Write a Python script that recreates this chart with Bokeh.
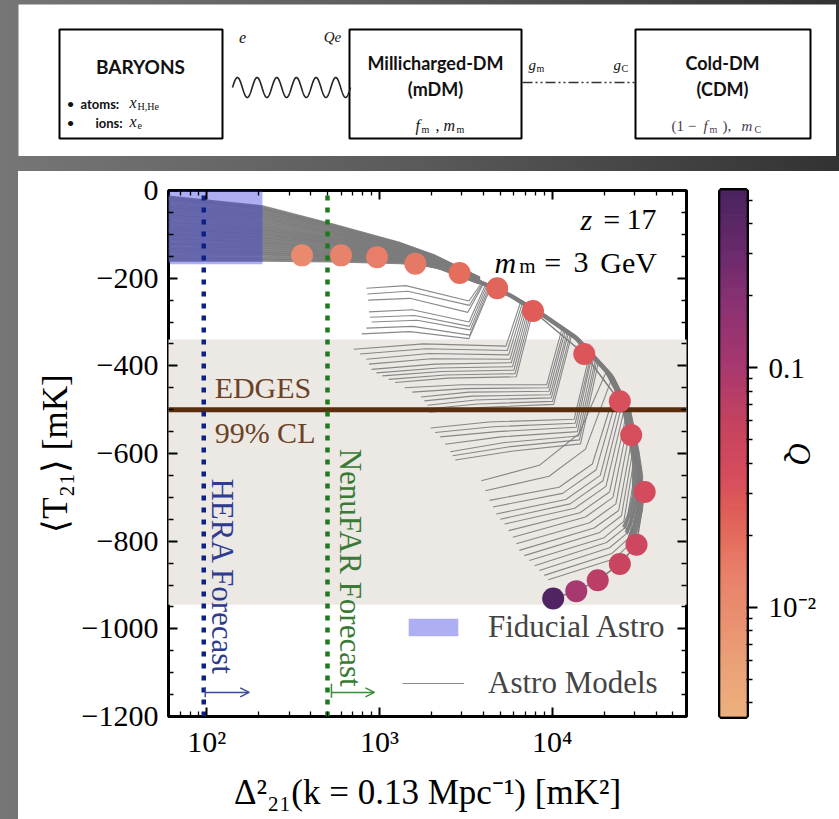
import math
import numpy as np
from bokeh.plotting import figure
from bokeh.models import (Range1d, LogAxis, LinearAxis, FixedTicker, CustomJSTickFormatter, Legend,
                          LegendItem, LogColorMapper, ColumnDataSource, Arrow, OpenHead, Spacer)
from bokeh.layouts import column, row
from bokeh.transform import transform
from bokeh.core.properties import value
from bokeh.embed import file_html
from bokeh.resources import INLINE

SERIF = "Liberation Serif"
SANS = "Lato"

# ---------------- data ----------------
# fiducial-astro trajectory (coloured dots): one point per Q value
Q_FID = [0.0109, 0.0127, 0.0144, 0.016, 0.0195, 0.022, 0.026, 0.030, 0.033, 0.036, 0.038, 0.047, 0.054, 0.072, 0.10, 0.49]
DELTA_FID = [356, 599, 968, 1614, 2911, 4808, 7745, 15350, 24660, 28700, 34360, 30800, 24660, 18370, 13800, 10140]
T21_FID = [-148, -148, -152, -167, -188, -223, -275, -373, -481, -558, -688, -808, -852, -889, -914, -931]

# fiducial astro region (blue box)
FID_DELTA = [60, 210]
FID_T21 = [-168, 0]

# EDGES 99% CL band and central value
EDGES_T21 = -500
EDGES_BAND = [-945, -340]

# forecast sensitivities
HERA_DELTA = 96
NENUFAR_DELTA = 500

# colour bar
Q_MIN, Q_MAX = 0.0035, 0.55
Q_TICKS = [0.01, 0.1]
Q_TICK_LABELS = ["10\u207b\u00b2", "0.1"]
Q_MINOR = [0.004, 0.005, 0.006, 0.007, 0.008, 0.009, 0.02, 0.03, 0.04, 0.05, 0.06, 0.07, 0.08, 0.09,
           0.2, 0.3, 0.4, 0.5]
CMAP_POS = [0.0, 0.113, 0.2, 0.273, 0.338, 0.402, 0.466, 0.563, 0.664, 0.788, 0.884, 1.0]
CMAP_HEX = ["#EDB07F", "#EA9F76", "#E98D6F", "#E8806A", "#E46D5C", "#DE5A58", "#D54B5D",
            "#C4425F", "#A83870", "#8A3272", "#6A2A6C", "#4B2361"]

# axes ticks
X_TICKS = [100, 1000, 10000]
X_TICK_LABELS = ["10\u00b2", "10\u00b3", "10\u2074"]
X_MINOR = [60, 70, 80, 90, 200, 300, 400, 500, 600, 700, 800, 900,
           2000, 3000, 4000, 5000, 6000, 7000, 8000, 9000, 20000, 30000, 40000, 50000, 60000]
Y_TICKS = [0, -200, -400, -600, -800, -1000, -1200]
Y_TICK_LABELS = ["0", "\u2212200", "\u2212400", "\u2212600", "\u2212800", "\u22121000", "\u22121200"]
Y_MINOR = [-1150, -1100, -1050, -950, -900, -850, -750, -700, -650, -550, -500, -450,
           -350, -300, -250, -150, -100, -50]

# grey astro-model curves: low-Q part (inside / right of the blue box)
UPPER_DELTA = [60, 210, 545, 1320, 2050, 3800]
UPPER_T21 = [
    [-15, -37, -79, -121, -148, -200],
    [-19, -41, -81, -122, -149, -200],
    [-24, -45, -84, -124, -150, -201],
    [-30, -50, -87, -126, -150, -201],
    [-36, -54, -90, -127, -151, -202],
    [-41, -59, -94, -129, -152, -202],
    [-47, -63, -97, -131, -153, -203],
    [-53, -68, -100, -133, -154, -203],
    [-58, -73, -103, -134, -155, -204],
    [-64, -78, -107, -136, -156, -204],
    [-70, -83, -110, -138, -157, -205],
    [-75, -88, -113, -140, -158, -205],
    [-81, -92, -116, -141, -158, -205],
    [-86, -97, -119, -143, -159, -206],
    [-91, -101, -121, -144, -160, -206],
    [-97, -106, -124, -146, -161, -206],
    [-102, -110, -127, -147, -162, -207],
    [-108, -115, -131, -149, -163, -207],
    [-113, -119, -134, -151, -164, -208],
    [-119, -124, -138, -152, -165, -208],
    [-124, -129, -141, -154, -166, -209],
    [-130, -134, -144, -156, -167, -209],
    [-135, -139, -147, -157, -168, -210],
    [-141, -143, -151, -159, -169, -210],
    [-147, -148, -154, -161, -170, -210],
    [-153, -154, -158, -163, -171, -211],
    [-159, -159, -161, -165, -172, -211],
]
# ridge of the grey band (outer envelope of the models)
ENV_DELTA = [2050, 3800, 5920, 9200, 14300, 22300, 27800, 31000, 32500, 32500, 30500, 28500]
ENV_T21 = [-165, -209, -243, -289, -342, -426, -502, -593, -646, -723, -770, -800]
# relative spread of the curves that make up the thick band
BAND_SCALE_DELTA = [1.00, 0.975, 0.95, 1.02, 0.92, 0.965, 0.99, 0.935, 0.905, 1.01, 0.955, 0.985]
BAND_SCALE_T21 = [1.00, 0.99, 0.98, 1.005, 0.965, 0.995, 0.985, 0.975, 0.96, 1.0, 0.97, 0.995]
# high-Q branches leaving the band towards low power
BRANCH_DELTA = [
    [3900, 3300, 1420, 840], [3950, 3320, 1460, 850], [4000, 3250, 1500, 860],
    [4100, 3300, 1550, 870], [4180, 3320, 1600, 880], [4250, 3350, 1650, 900],
    [4320, 3330, 1560, 840], [4400, 3300, 1500, 790],
    [6600, 5400, 1800, 710], [6750, 5500, 1850, 770], [6900, 5600, 1950, 840],
    [7050, 5700, 2000, 870], [7200, 5800, 2100, 900], [7350, 5900, 2200, 960],
    [7500, 6000, 2300, 1040], [7650, 6100, 2400, 1130], [7800, 6200, 2500, 1230],
    [11500, 9300, 3000, 1400], [11800, 9450, 3150, 1550], [12000, 9600, 3300, 1740],
    [12300, 9750, 3450, 1820], [12500, 9900, 3600, 1900], [12800, 10050, 3700, 1930],
    [13000, 10200, 3800, 1950],
    [16500, 13400, 4300, 1980], [16800, 13600, 4550, 2100], [17000, 13800, 4800, 2250],
    [17400, 14000, 5050, 2400], [17800, 14200, 5300, 2570], [18100, 14400, 5550, 2650],
    [18500, 14600, 5800, 2750],
    [20500, 14300, 8430, 3890], [22000, 15600, 9600, 4100], [23500, 17100, 10970, 4340],
    [24200, 18000, 11500, 4540], [25000, 19000, 12000, 4740], [25700, 19700, 12700, 5000],
    [26500, 20500, 13500, 5300], [27200, 21500, 14500, 5600], [28000, 22500, 15600, 5920],
    [28700, 23400, 16500, 6200], [29500, 24300, 17500, 6460], [30000, 25200, 18700, 6900],
    [30500, 26000, 20000, 7380], [31000, 26700, 20700, 7900], [31500, 27500, 21500, 8430],
    [31500, 28000, 22200, 9000], [31500, 28500, 23000, 9500],
]
BRANCH_T21 = [
    [-211, -252, -217, -223], [-212, -262, -230, -236], [-213, -278, -246, -250],
    [-216, -300, -272, -277], [-217, -310, -285, -289], [-219, -318, -296, -300],
    [-221, -330, -310, -314], [-222, -338, -322, -327],
    [-252, -355, -350, -362], [-255, -365, -361, -373], [-257, -375, -372, -385],
    [-259, -385, -384, -396], [-262, -393, -396, -408], [-264, -402, -405, -416],
    [-266, -410, -413, -423], [-268, -418, -421, -431], [-270, -425, -428, -438],
    [-310, -443, -443, -450], [-313, -450, -452, -460], [-316, -458, -460, -471],
    [-319, -466, -469, -480], [-322, -473, -478, -490], [-325, -481, -487, -498],
    [-328, -488, -495, -506],
    [-372, -522, -528, -542], [-375, -531, -539, -552], [-378, -540, -550, -562],
    [-382, -550, -562, -579], [-386, -560, -575, -596], [-390, -569, -585, -605],
    [-394, -578, -595, -615],
    [-415, -555, -627, -662], [-432, -590, -652, -685], [-450, -624, -677, -707],
    [-460, -637, -691, -722], [-470, -650, -705, -738], [-480, -662, -715, -750],
    [-490, -675, -725, -761], [-502, -688, -735, -776], [-515, -700, -745, -791],
    [-532, -715, -758, -806], [-550, -730, -770, -821], [-570, -742, -781, -833],
    [-590, -755, -792, -844], [-615, -768, -803, -856], [-640, -780, -815, -867],
    [-670, -792, -828, -878], [-700, -805, -840, -888],
]


def build_palette(n=256):
    rgb = np.array([[int(h[i:i + 2], 16) for i in (1, 3, 5)] for h in CMAP_HEX], dtype=float)
    t = np.linspace(0, 1, n)
    ch = [np.interp(t, CMAP_POS, rgb[:, k]) for k in range(3)]
    return ["#%02x%02x%02x" % (int(round(r)), int(round(g)), int(round(b))) for r, g, b in zip(*ch)]


PALETTE = build_palette()
mapper = LogColorMapper(palette=PALETTE, low=Q_MIN, high=Q_MAX)


def label_formatter(tick_values, labels):
    return CustomJSTickFormatter(args=dict(tv=tick_values, labs=labels), code="""
        for (let i = 0; i < tv.length; i++) {
            if (Math.abs(tv[i] - tick) <= 1e-9 * Math.max(1, Math.abs(tick))) { return labs[i]; }
        }
        return '';
    """)


def empty_formatter():
    return CustomJSTickFormatter(code="return '';")


# ---------------- main panel ----------------
p = figure(width=682, height=648, x_axis_type="log", x_range=Range1d(60, 60000), y_range=Range1d(-1200, 0),
           output_backend="svg", toolbar_location=None,
           min_border_left=150, min_border_right=14, min_border_top=19, min_border_bottom=103,
           background_fill_color="white", border_fill_color="white")
p.grid.visible = False
p.outline_line_color = "black"
p.outline_line_width = 3


def style_axis(ax):
    ax.major_tick_in = 9
    ax.major_tick_out = 0
    ax.minor_tick_in = 5
    ax.minor_tick_out = 0
    ax.major_tick_line_width = 2
    ax.minor_tick_line_width = 1.3
    ax.major_tick_line_color = "black"
    ax.minor_tick_line_color = "black"
    ax.axis_line_color = None
    ax.major_label_text_font = SERIF
    ax.major_label_text_font_size = "30px"
    ax.major_label_text_color = "black"
    ax.axis_label_text_font = SERIF
    ax.axis_label_text_font_size = "35px"
    ax.axis_label_text_font_style = "normal"
    ax.axis_label_text_color = "black"


xax = p.xaxis[0]
yax = p.yaxis[0]
for ax in (xax, yax):
    style_axis(ax)
xax.ticker = FixedTicker(ticks=X_TICKS, minor_ticks=X_MINOR)
xax.formatter = label_formatter(X_TICKS, X_TICK_LABELS)
xax.major_label_standoff = 8
xax.axis_label = "\u0394\u00b2\u2082\u2081(k = 0.13 Mpc\u207b\u00b9) [mK\u00b2]"
xax.axis_label_standoff = 12
yax.ticker = FixedTicker(ticks=Y_TICKS, minor_ticks=Y_MINOR)
yax.formatter = label_formatter(Y_TICKS, Y_TICK_LABELS)
yax.major_label_standoff = 10
yax.axis_label = "\u27e8T\u2082\u2081\u27e9 [mK]"
yax.axis_label_standoff = 4

top_ax = LogAxis(ticker=FixedTicker(ticks=X_TICKS, minor_ticks=X_MINOR), formatter=empty_formatter())
right_ax = LinearAxis(ticker=FixedTicker(ticks=Y_TICKS, minor_ticks=Y_MINOR), formatter=empty_formatter())
for ax in (top_ax, right_ax):
    style_axis(ax)
    ax.major_label_standoff = 0
p.add_layout(top_ax, "above")
p.add_layout(right_ax, "right")

# EDGES band
p.quad(left=[1], right=[1e7], bottom=[EDGES_BAND[0]], top=[EDGES_BAND[1]],
       fill_color="#ECE9E5", line_color=None)

# grey astro models
GREY = "#7c7c7c"
p.multi_line(xs=[UPPER_DELTA] * len(UPPER_T21), ys=UPPER_T21, line_color=GREY, line_width=3.0, line_alpha=0.9)
band_xs = [[d * s for d in ENV_DELTA] for s in BAND_SCALE_DELTA]
band_ys = [[t * s for t in ENV_T21] for s in BAND_SCALE_T21]
p.multi_line(xs=band_xs, ys=band_ys, line_color=GREY, line_width=2.2, line_alpha=0.9)
branch_r = p.multi_line(xs=BRANCH_DELTA, ys=BRANCH_T21, line_color=GREY, line_width=1.1, line_alpha=0.9)
p.line(DELTA_FID, T21_FID, line_color=GREY, line_width=1.5)

# fiducial astro box (over the lines)
fid_r = p.quad(left=[FID_DELTA[0]], right=[FID_DELTA[1]], bottom=[FID_T21[0]], top=[FID_T21[1]],
               fill_color="#3434E6", fill_alpha=0.4, line_color=None)

# EDGES central value
p.line([1, 1e7], [EDGES_T21, EDGES_T21], line_color="#5A2D0C", line_width=5)

# forecast lines
HERA_C = "#0B2184"
NENU_C = "#1B7A1B"
p.line([HERA_DELTA, HERA_DELTA], [-1200, 0], line_color=HERA_C, line_width=4.5, line_dash="5 7")
p.line([NENUFAR_DELTA, NENUFAR_DELTA], [-1200, 0], line_color=NENU_C, line_width=4.5, line_dash="5 7")

# coloured dots
dots = ColumnDataSource(dict(x=DELTA_FID, y=T21_FID, q=Q_FID))
p.scatter("x", "y", source=dots, size=22, fill_color=transform("q", mapper), line_color=None)


def ptext(x, y, s, size=29, color="black", style="normal", align="left", baseline="alphabetic", angle=0.0):
    p.text(x=[x], y=[y], text=[s], text_font=value(SERIF), text_font_size=value(f"{size}px"),
           text_font_style=style, text_color=color, text_align=align, text_baseline=baseline, angle=angle)


ptext(111, -450, "EDGES", size=30, color="#6B4226")
ptext(111, -553, "99% CL", size=30, color="#6B4226")
ptext(124, -657, "HERA Forecast", size=31, color="#2E3B8E", baseline="middle", angle=-math.pi / 2)
ptext(679, -589, "NenuFAR Forecast", size=31, color="#3A7A36", baseline="middle", angle=-math.pi / 2)
ptext(14600, -66, "z", size=30, style="italic")
ptext(19800, -66, "=", size=30)
ptext(27000, -66, "17", size=30)
ptext(4630, -164, "m", size=30, style="italic")
ptext(6460, -173, "m", size=21)
ptext(9010, -164, "=", size=30)
ptext(13300, -164, "3", size=30)
ptext(19000, -164, "GeV", size=30)

# forecast arrows
p.add_layout(Arrow(end=OpenHead(size=9, line_color="#3C4A9A", line_width=1.5),
                   x_start=98, y_start=-1145, x_end=176, y_end=-1145, line_color="#3C4A9A", line_width=1.5))
p.add_layout(Arrow(end=OpenHead(size=9, line_color="#3B8B3B", line_width=1.5),
                   x_start=527, y_start=-1145, x_end=935, y_end=-1145, line_color="#3B8B3B", line_width=1.5))
p.segment(x0=[98, 527], y0=[-1133, -1125], x1=[98, 527], y1=[-1156, -1157],
          line_color=["#3C4A9A", "#3B8B3B"], line_width=1.5)

legend = Legend(items=[LegendItem(label="Fiducial Astro", renderers=[fid_r]),
                       LegendItem(label="Astro Models", renderers=[branch_r])],
                location=(234, 15), orientation="vertical", background_fill_alpha=0, border_line_alpha=0,
                label_text_font=SERIF, label_text_font_size="31px", glyph_width=62, glyph_height=22,
                label_height=31, spacing=20, padding=0, margin=0, label_standoff=24)
p.add_layout(legend)

# ---------------- colour bar ----------------
cb = figure(width=139, height=648, y_axis_type="log", y_range=Range1d(Q_MIN, Q_MAX), x_range=Range1d(0, 1),
            output_backend="svg", toolbar_location=None, y_axis_location="right",
            min_border_left=20, min_border_right=93, min_border_top=19, min_border_bottom=103,
            background_fill_color="white", border_fill_color="white")
cb.grid.visible = False
cb.xaxis.visible = False
cb.outline_line_color = "black"
cb.outline_line_width = 5
edges = np.geomspace(Q_MIN, Q_MAX, 257)
cb_src = ColumnDataSource(dict(bottom=edges[:-1], top=edges[1:], q=np.sqrt(edges[:-1] * edges[1:])))
cb.quad(left=0, right=1, bottom="bottom", top="top", fill_color=transform("q", mapper),
        line_color=transform("q", mapper), line_width=1, source=cb_src)
cax = cb.yaxis[0]
cax.ticker = FixedTicker(ticks=Q_TICKS, minor_ticks=Q_MINOR)
cax.formatter = label_formatter(Q_TICKS, Q_TICK_LABELS)
cax.major_tick_out = 11
cax.major_tick_in = 0
cax.minor_tick_out = 6
cax.minor_tick_in = 0
cax.major_tick_line_width = 2
cax.minor_tick_line_width = 1.3
cax.axis_line_color = None
cax.major_label_standoff = 11
cax.major_label_text_font = SERIF
cax.major_label_text_font_size = "29px"
cax.major_label_text_color = "black"
cax.axis_label = "Q"
cax.axis_label_text_font = SERIF
cax.axis_label_text_font_size = "31px"
cax.axis_label_text_font_style = "italic"
cax.axis_label_text_color = "black"
cax.axis_label_standoff = -37

# ---------------- model diagram ----------------
d = figure(width=818, height=152, x_range=Range1d(18, 836), y_range=Range1d(156, 4),
           output_backend="svg", toolbar_location=None, min_border=0,
           background_fill_color="white", border_fill_color="white")
d.axis.visible = False
d.grid.visible = False
d.outline_line_color = None

d.quad(left=[59, 349, 635], right=[222, 521, 810], top=[29, 29, 29], bottom=[138, 138, 138],
       fill_color=None, line_color="black", line_width=2)
tw = np.linspace(0, 1, 400)
d.line(232 + 118 * tw, 87 - 10 * np.sin(2 * np.pi * 6 * tw), line_color="#222222", line_width=1.6)
d.line([522, 634], [82, 82], line_color="#333333", line_width=1.5, line_dash="10 3 2 3 2 3")


def dtext(x, y, s, size, font=SERIF, style="normal", align="left", color="#111111"):
    d.text(x=[x], y=[y], text=[s], text_font=value(font), text_font_size=value(f"{size}px"),
           text_font_style=style, text_align=align, text_baseline="middle", text_color=color)


dtext(140, 66, "BARYONS", 19, SANS, "bold", "center")
dtext(66, 103, "\u2022", 14, SANS)
dtext(80, 103, "atoms:", 13, SANS, "bold")
dtext(129, 102, "x", 16, SERIF, "italic")
dtext(137, 106, "H,He", 10)
dtext(66, 122, "\u2022", 14, SANS)
dtext(95, 122, "ions:", 13, SANS, "bold")
dtext(129, 121, "x", 16, SERIF, "italic")
dtext(137, 125, "e", 10)
dtext(242, 37, "e", 16, SERIF, "italic", "center")
dtext(332, 36, "Qe", 15, SERIF, "italic", "center")
dtext(435, 62, "Millicharged-DM", 18, SANS, "bold", "center")
dtext(435, 88, "(mDM)", 18, SANS, "bold", "center")
dtext(415, 125, "f", 16, SERIF, "italic")
dtext(421, 129, "m", 10)
dtext(435, 125, ",", 16)
dtext(443, 125, "m", 16, SERIF, "italic")
dtext(456, 129, "m", 10)
dtext(528, 64, "g", 15, SERIF, "italic")
dtext(536, 68, "m", 10)
dtext(613, 64, "g", 15, SERIF, "italic")
dtext(621, 68, "C", 10)
dtext(722, 62, "Cold-DM", 18, SANS, "bold", "center")
dtext(722, 88, "(CDM)", 18, SANS, "bold", "center")
dtext(671, 125, "(1 \u2212", 15, SERIF, "normal", "left", "#4a3b4f")
dtext(703, 125, "f", 15, SERIF, "italic", "left", "#4a3b4f")
dtext(709, 129, "m", 10, SERIF, "normal", "left", "#4a3b4f")
dtext(722, 125, "),", 15, SERIF, "normal", "left", "#4a3b4f")
dtext(741, 125, "m", 15, SERIF, "italic", "left", "#4a3b4f")
dtext(754, 129, "C", 10, SERIF, "normal", "left", "#4a3b4f")

# ---------------- page ----------------
layout = column(
    Spacer(width=839, height=4),
    row(Spacer(width=18, height=152), d),
    Spacer(width=839, height=15),
    row(Spacer(width=18, height=648), row(p, cb, styles={"background-color": "white"})),
    width=839, height=819,
    styles={"background": "linear-gradient(to right, #767676 0%, #5a5a5a 50%, #323232 100%)"},
)

open("out.html", "w", encoding="utf-8").write(file_html(layout, INLINE))
